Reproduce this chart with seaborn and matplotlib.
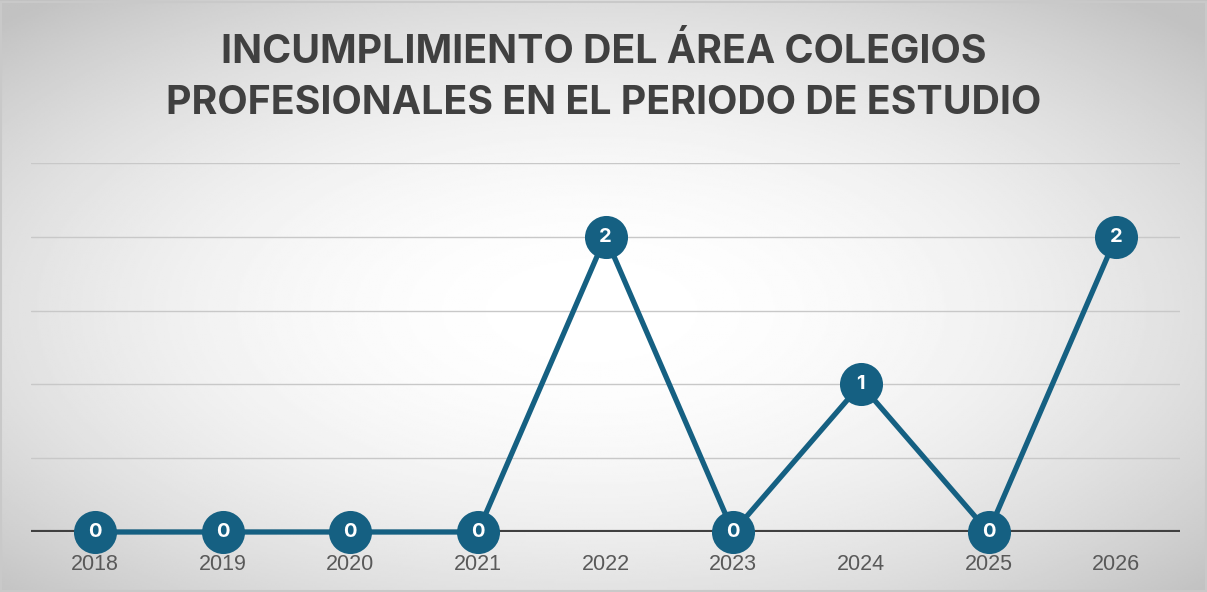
import numpy as np
import pandas as pd
import matplotlib
matplotlib.use('Agg')
import matplotlib.pyplot as plt
import seaborn as sns

# data
years = ['2018', '2019', '2020', '2021', '2022', '2023', '2024', '2025', '2026']
incumplimientos = [0, 0, 0, 0, 2, 0, 1, 0, 2]

titulo = 'INCUMPLIMIENTO DEL ÁREA COLEGIOS\nPROFESIONALES EN EL PERIODO DE ESTUDIO'

df = pd.DataFrame({'year': years, 'valor': incumplimientos})
df['pos'] = range(len(df))

sns.set_theme(style='white')
plt.rcParams['font.family'] = ['Inter', 'DejaVu Sans']

fig = plt.figure(figsize=(12.07, 5.92), dpi=100)

# radial gradient background
bg = fig.add_axes([0, 0, 1, 1], zorder=-1)
xx, yy = np.meshgrid(np.linspace(-1, 1, 600), np.linspace(-1, 1, 300))
r = np.sqrt((xx + 0.02) ** 2 + (yy - 0.05) ** 2)
shade = np.clip(1 - 0.125 * r ** 2, 0.76, 1)
bg.imshow(shade, cmap='gray', vmin=0, vmax=1, aspect='auto', extent=[0, 1, 0, 1])
bg.set_axis_off()
bg.add_patch(plt.Rectangle((0.001, 0.002), 0.998, 0.995, fill=False,
                           edgecolor='#c9c9c9', lw=1.5, transform=bg.transAxes))

ax = fig.add_axes([31 / 1207, 60 / 592, 1149 / 1207, 369 / 592])
ax.patch.set_alpha(0)

color = '#156082'
ax.axhline(0, color='#404040', lw=3, zorder=2)
sns.lineplot(data=df, x='pos', y='valor', ax=ax, color=color, lw=3.8,
             marker='o', markersize=31, markeredgewidth=0, zorder=3,
             clip_on=False)

for p, v in zip(df['pos'], df['valor']):
    ax.text(p, v, str(v), ha='center', va='center', color='white',
            fontsize=14.5, fontweight='bold', zorder=4)

ax.set_xlim(-0.5, len(years) - 0.5)
ax.set_ylim(0, 2.5)
ax.set_yticks(np.arange(0, 2.51, 0.5))
ax.yaxis.grid(True, color='#c8c8c8', lw=1)
ax.set_axisbelow(True)
ax.set_yticklabels([])
ax.tick_params(axis='y', length=0)
ax.set_xticks(df['pos'])
ax.set_xticklabels(years, fontsize=15.5, color='#595959',
                   family=['Liberation Sans', 'DejaVu Sans'])
ax.tick_params(axis='x', length=0, pad=16)
ax.set_xlabel('')
ax.set_ylabel('')
for s in ax.spines.values():
    s.set_visible(False)

fig.text(0.5, 0.869, titulo, ha='center', va='center', fontsize=28.3,
         fontweight='bold', color='#404040', linespacing=1.5)

fig.savefig('out.png', dpi=100)
